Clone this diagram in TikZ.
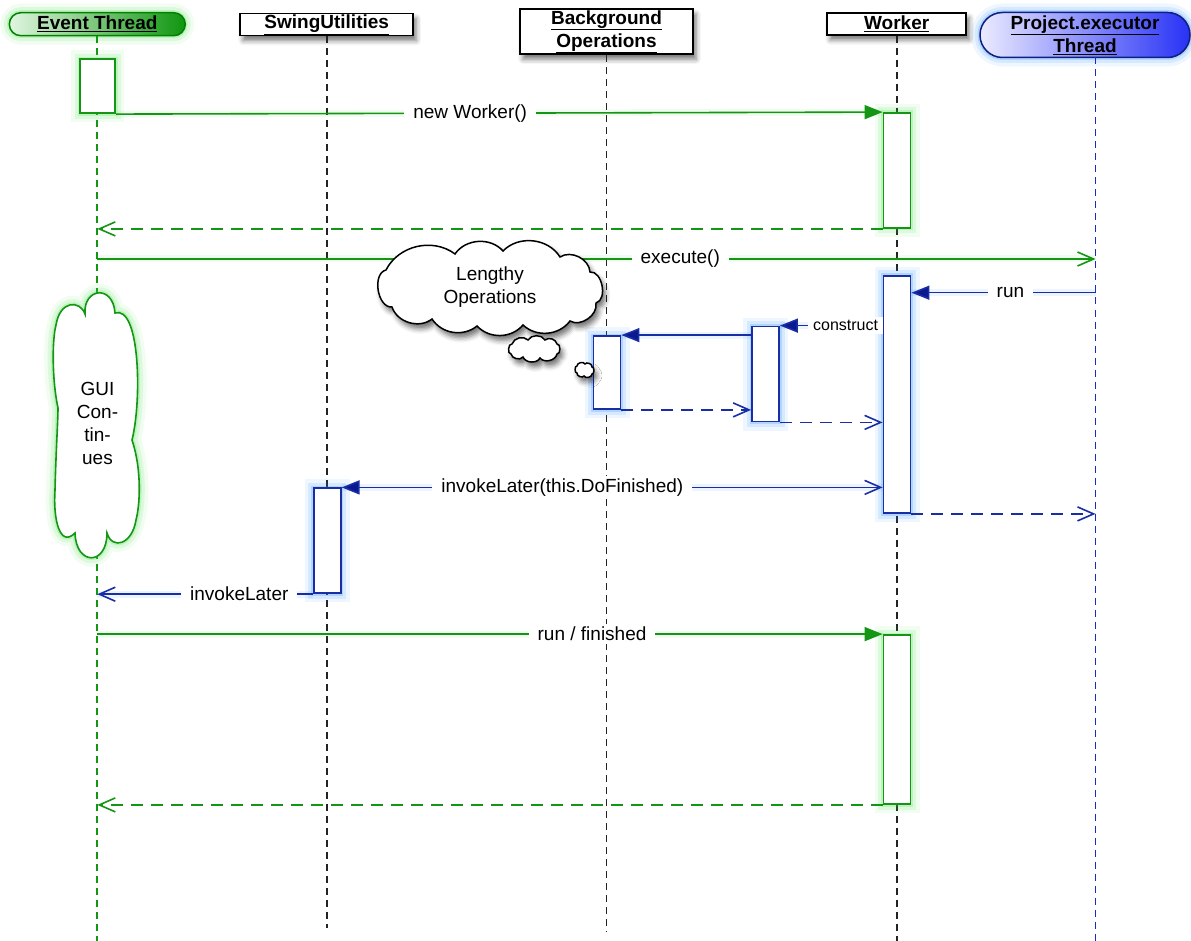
\documentclass[tikz,border=0pt]{standalone}
\usepackage{fontspec}
\setmainfont{Liberation Sans}
\usetikzlibrary{arrows.meta,shapes.misc,shadows.blur,calc}
\definecolor{gline}{RGB}{20,150,20}
\definecolor{gglow}{RGB}{60,220,60}
\definecolor{bline}{RGB}{25,45,165}
\definecolor{bhead}{RGB}{10,25,145}
\definecolor{bglow}{RGB}{40,140,255}
\definecolor{lifegray}{RGB}{35,35,35}
\definecolor{lifeblue}{RGB}{20,45,190}
\definecolor{etL}{RGB}{225,245,225}
\definecolor{etR}{RGB}{15,150,15}
\definecolor{peL}{RGB}{235,235,255}
\definecolor{peR}{RGB}{40,50,245}
\begin{document}
\begin{tikzpicture}[x=1pt,y=-1pt,
  font=\fontsize{19}{23}\selectfont,
  glowG/.style={preaction={draw=gglow,line width=18pt,draw opacity=0.07},
                preaction={draw=gglow,line width=11pt,draw opacity=0.11},
                preaction={draw=gglow,line width=5pt,draw opacity=0.2}},
  glowB/.style={preaction={draw=bglow,line width=18pt,draw opacity=0.08},
                preaction={draw=bglow,line width=11pt,draw opacity=0.12},
                preaction={draw=bglow,line width=5pt,draw opacity=0.22}},
  lglowG/.style={preaction={draw=gglow,line width=7pt,draw opacity=0.08,arrows=-}},
  lglowB/.style={preaction={draw=bglow,line width=7pt,draw opacity=0.09,arrows=-}},
  hbox/.style={draw=black,line width=1.8pt,fill=white,inner sep=0pt,align=center,
     font=\bfseries\fontsize{19}{23}\selectfont,
     blur shadow={shadow xshift=3pt,shadow yshift=-5pt,shadow blur radius=5pt,shadow opacity=55}},
  pill/.style={rounded rectangle,line width=1.5pt,inner sep=0pt,align=center,
     font=\bfseries\fontsize{19}{23}\selectfont},
  act/.style={draw,fill=white,line width=1.8pt,inner sep=0pt,minimum width=27pt},
  gact/.style={act,draw=gline,glowG},
  bact/.style={act,draw=bline,glowB},
  life/.style={dash pattern=on 7pt off 5pt,line width=1.8pt},
  gmsg/.style={draw=gline,line width=1.6pt},
  bmsg/.style={draw=bline,line width=1.6pt},
  fillhead/.style={-{Triangle[length=18pt,width=14pt]}},
  openhead/.style={-{Straight Barb[length=16pt,width=14pt]}},
  dsh/.style={dash pattern=on 12pt off 8pt},
  lbl/.style={fill=white,inner xsep=9pt,inner ysep=3pt,text=black,font=\fontsize{19}{23}\selectfont},
  lblsm/.style={fill=white,inner xsep=5pt,inner ysep=3pt,text=black,font=\fontsize{16}{19}\selectfont},
  thought/.style={draw=black,line width=1.5pt,fill=white,
     blur shadow={shadow xshift=3pt,shadow yshift=-5pt,shadow blur radius=5pt,shadow opacity=55}}
]
\useasboundingbox (0,0) rectangle (1191,941);

% ---------- headers ----------
\node[pill,draw={rgb,255:red,0;green,130;blue,0},left color=etL,right color=etR,
      minimum width=176pt,minimum height=23pt,glowG] (et) at (97.3,24.2) {\underline{Event Thread}};
\node[hbox,minimum width=173pt,minimum height=22pt] (su) at (326.7,24.5) {\underline{SwingUtilities}};
\node[hbox,minimum width=173pt,minimum height=45pt] (bg) at (606.5,31.7) {\underline{Background}\\\underline{Operations}};
\node[hbox,minimum width=139pt,minimum height=22pt] (wk) at (896.7,23.8) {\underline{Worker}};
\node[pill,draw={rgb,255:red,15;green,30;blue,130},left color=peL,right color=peR,
      minimum width=210pt,minimum height=45pt,glowB] (pe) at (1085,35) {\underline{Project.executor}\\\underline{Thread}};

% ---------- lifeline coordinates ----------
\coordinate (etEnd) at (97.3,941);
\coordinate (suEnd) at (326.7,928);
\coordinate (bgEnd) at (606.5,932);
\coordinate (wkEnd) at (896.7,941);
\coordinate (peTop) at (1095.5,57.5);
\coordinate (peEnd) at (1095.5,941);

\draw[life,draw=gline] (et.south) -- (etEnd);
\draw[life,draw=lifegray] (su.south) -- (suEnd);
\draw[life,draw=lifegray] (bg.south) -- (bgEnd);
\draw[life,draw=lifegray] (wk.south) -- (wkEnd);
\draw[life,draw=lifeblue] (peTop) -- (peEnd);

% ---------- free-end coordinates ----------
\coordinate (exA) at (97.3,259);
\coordinate (exB) at (1095.5,259);
\coordinate (runA) at (1095.5,292.7);

% ---------- activation boxes ----------
\node[gact,minimum width=35pt,minimum height=54pt] (ea) at (97.6,86.2) {};
\node[gact,minimum height=115pt] (w1) at (897,170.5) {};
\node[bact,minimum height=237pt] (w2) at (897,394.5) {};
\node[bact,minimum height=95pt] (cb) at (765.5,374) {};
\node[bact,minimum height=73pt] (bb) at (607,372.5) {};
\node[bact,minimum height=105pt] (sb) at (327.2,540.8) {};
\node[gact,minimum height=169pt] (w3) at (897,719.5) {};

% ---------- messages ----------
\draw[gmsg,lglowG,fillhead] (ea.south east) -- node[lbl,pos=0.462]{new Worker()} (w1.north west);
\draw[gmsg,dsh,openhead] (w1.south west) -- (w1.south west -| et.center);
\draw[gmsg,lglowG,openhead] (exA) -- node[lbl,pos=0.584]{execute()} (exB);
\draw[bmsg,lglowB,-{Triangle[length=18pt,width=14pt,fill=bhead]}] (runA) -- node[lbl,pos=0.462]{run} (runA -| w2.east);
\draw[bmsg,lglowB,-{Triangle[length=18pt,width=14pt,fill=bhead]}] (cb.north east -| w2.west) -- node[lblsm,pos=0.36]{construct} (cb.north east);
\draw[bmsg,lglowB,-{Triangle[length=18pt,width=14pt,fill=bhead]}] (bb.north east -| cb.west) -- (bb.north east);
\draw[bmsg,dsh,openhead] (bb.south east) -- (bb.south east -| cb.west);
\draw[bmsg,dsh,openhead] (cb.south east) -- (cb.south east -| w2.west);
\draw[bmsg,lglowB,{Triangle[length=18pt,width=14pt,fill=bhead]}-{Straight Barb[length=16pt,width=14pt]}]
   (sb.north east) -- node[lbl,pos=0.408]{invokeLater(this.DoFinished)} (sb.north east -| w2.west);
\draw[bmsg,dsh,openhead] (w2.south east) -- (w2.south east -| peTop);
\draw[bmsg,lglowB,openhead] (sb.south west) -- node[lbl,pos=0.341]{invokeLater} (sb.south west -| et.center);
\draw[gmsg,lglowG,fillhead] (w3.north west -| et.center) -- node[lbl,pos=0.63]{run / finished} (w3.north west);
\draw[gmsg,dsh,openhead] (w3.south west) -- (w3.south west -| et.center);

% ---------- clouds ----------
\draw[thought] (590,272) to[bend left=85] (596,303) to[bend left=65] (570,321)
   to[bend left=48] (523,325) to[bend left=48] (477,326) to[bend left=48] (432,319)
   to[bend left=55] (392,307) to[bend left=85] (386,270) to[bend left=50] (455,254)
   to[bend left=52] (503,251) to[bend left=52] (560,257) to[bend left=60] (590,272) -- cycle;
\node[align=center] (lo) at (490,287) {Lengthy\\Operations};

\draw[thought] (557,344) to[bend left=100] (557,354) to[bend left=65] (540,358)
   to[bend left=65] (523,357) to[bend left=65] (511,354) to[bend left=100] (512,344)
   to[bend left=60] (528,340) to[bend left=60] (545,340) to[bend left=60] (557,344) -- cycle;

\draw[thought] (592,367) to[bend left=110] (592,374) to[bend left=80] (584,376)
   to[bend left=80] (577,373) to[bend left=110] (577,366) to[bend left=80] (585,364)
   to[bend left=80] (592,367) -- cycle;

\draw[draw=gline,line width=1.6pt,fill=white,glowG]
   (85,314) .. controls (83,288) and (113,284) .. (115,313)
   .. controls (140,305) and (142,400) .. (132,440)
   .. controls (142,470) and (140,505) .. (136,520)
   .. controls (132,545) and (112,550) .. (107,533)
   .. controls (107,566) and (76,566) .. (75,533)
   .. controls (60,548) and (53,520) .. (55,490)
   .. controls (56,450) and (58,420) .. (58,408)
   .. controls (52,380) and (52,340) .. (56,325)
   .. controls (60,300) and (80,300) .. (85,314) -- cycle;
\node[align=center,text width=80pt,inner sep=0pt] (gui) at (97.5,423.5) {\centering GUI\\Con-\\tin-\\ues};

\end{tikzpicture}
\end{document}
